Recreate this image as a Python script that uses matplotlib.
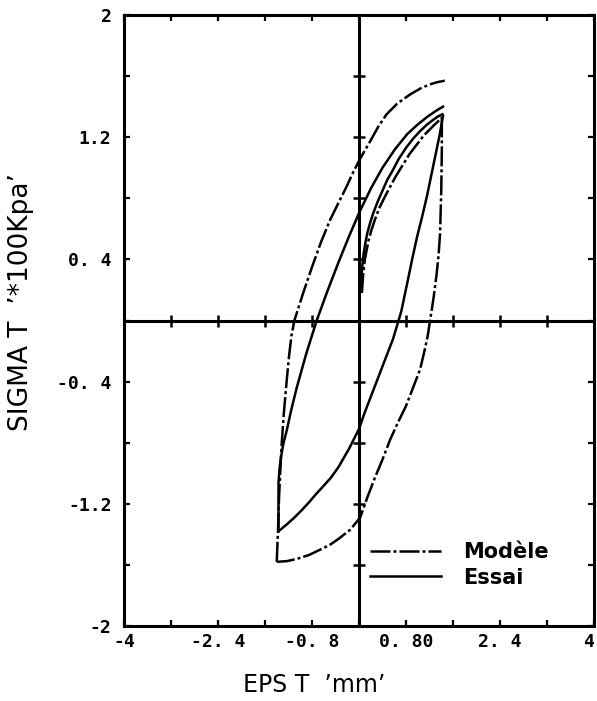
import matplotlib
matplotlib.use("Agg")
import matplotlib.pyplot as plt

# ---- Modèle (dash-dot) ----
mod_load_x = [0.05, 0.06, 0.07, 0.085, 0.10, 0.13, 0.16, 0.21, 0.27, 0.35, 0.44, 0.53,
              0.62, 0.74, 0.86, 0.98, 1.10, 1.19, 1.28, 1.35, 1.41]
mod_load_y = [0.18, 0.24, 0.30, 0.35, 0.40, 0.46, 0.52, 0.59, 0.66, 0.74, 0.81, 0.875,
              0.94, 1.015, 1.09, 1.15, 1.21, 1.245, 1.28, 1.305, 1.33]

mod_unload_x = [1.41, 1.41, 1.41, 1.405, 1.40, 1.39, 1.38, 1.355, 1.32, 1.27, 1.21, 1.17,
                1.12, 1.04, 0.92, 0.80, 0.66, 0.53, 0.40, 0.27, 0.14, 0.02, -0.15,
                -0.35, -0.50, -0.66, -0.85, -1.05, -1.22, -1.40]
mod_unload_y = [1.33, 1.22, 1.12, 0.98, 0.85, 0.71, 0.57, 0.43, 0.30, 0.15, 0.00, -0.10,
                -0.19, -0.32, -0.44, -0.56, -0.67, -0.78, -0.91, -1.03, -1.16, -1.29, -1.37,
                -1.43, -1.47, -1.50, -1.535, -1.56, -1.575, -1.58]

mod_reload_x = [-1.40, -1.39, -1.38, -1.37, -1.36, -1.34, -1.32, -1.28, -1.23, -1.19, -1.15,
                -1.10, -0.95, -0.80, -0.65, -0.49, -0.35, -0.22, -0.10, 0.02, 0.20, 0.33,
                0.47, 0.65, 0.87, 1.05, 1.20, 1.33, 1.46]
mod_reload_y = [-1.58, -1.48, -1.39, -1.27, -1.15, -0.99, -0.83, -0.61, -0.39, -0.23, -0.10,
                0.00, 0.18, 0.35, 0.51, 0.66, 0.77, 0.87, 0.97, 1.06, 1.18, 1.27,
                1.35, 1.42, 1.48, 1.52, 1.545, 1.56, 1.57]

# ---- Essai (solid) ----
ess_load_x = [0.03, 0.04, 0.05, 0.065, 0.08, 0.11, 0.14, 0.19, 0.24, 0.32, 0.40, 0.48,
              0.57, 0.68, 0.80, 0.92, 1.04, 1.15, 1.25, 1.34, 1.42]
ess_load_y = [0.22, 0.28, 0.33, 0.39, 0.44, 0.51, 0.57, 0.64, 0.70, 0.78, 0.85, 0.92,
              0.98, 1.06, 1.13, 1.19, 1.24, 1.28, 1.31, 1.335, 1.35]

ess_unload_x = [1.43, 1.37, 1.30, 1.23, 1.16, 1.075, 0.99, 0.91, 0.84, 0.78, 0.72, 0.65,
                0.58, 0.49, 0.40, 0.30, 0.20, 0.10, 0.00, -0.17, -0.35, -0.48, -0.62,
                -0.74, -0.85, -0.97, -1.10, -1.23, -1.37]
ess_unload_y = [1.34, 1.21, 1.08, 0.95, 0.82, 0.68, 0.55, 0.41, 0.28, 0.17, 0.06, -0.03,
                -0.12, -0.21, -0.30, -0.40, -0.50, -0.60, -0.71, -0.84, -0.96, -1.03, -1.09,
                -1.14, -1.19, -1.24, -1.29, -1.335, -1.38]

ess_reload_x = [-1.37, -1.37, -1.37, -1.355, -1.33, -1.29, -1.23, -1.15, -1.06, -0.98,
                -0.90, -0.81, -0.72, -0.54, -0.35, -0.16, 0.02, 0.21, 0.40, 0.61, 0.82,
                0.99, 1.15, 1.30, 1.43]
ess_reload_y = [-1.38, -1.22, -1.06, -0.98, -0.90, -0.81, -0.72, -0.58, -0.44, -0.33,
                -0.22, -0.11, 0.00, 0.19, 0.38, 0.56, 0.72, 0.87, 1.00, 1.12, 1.22,
                1.28, 1.33, 1.37, 1.40]

# ---- axes ----
x_major = [-4, -2.4, -0.8, 0.8, 2.4, 4]
x_major_labels = ["-4", "-2. 4", "-0. 8", "0. 80", "2. 4", "4"]
x_minor = [-3.2, -1.6, 0.0, 1.6, 3.2]
y_major = [2, 1.2, 0.4, -0.4, -1.2, -2]
y_major_labels = ["2", "1.2", "0. 4", "-0. 4", "-1.2", "-2"]
y_minor = [1.6, 0.8, 0.0, -0.8, -1.6]

legend_labels = ["Modèle", "Essai"]

fig = plt.figure(figsize=(5.97, 7.01), dpi=100)
ax = fig.add_axes([124 / 597, 1 - 626 / 701, 470 / 597, 611 / 701])

lw = 1.8
dash = [8, 1.2, 1.2, 1.2]

ax.plot(mod_load_x, mod_load_y, color="black", lw=lw, dashes=dash)
ax.plot(mod_unload_x, mod_unload_y, color="black", lw=lw, dashes=dash)
h_mod, = ax.plot(mod_reload_x, mod_reload_y, color="black", lw=lw, dashes=dash)

ax.plot(ess_load_x, ess_load_y, color="black", lw=lw)
ax.plot(ess_unload_x, ess_unload_y, color="black", lw=lw)
h_ess, = ax.plot(ess_reload_x, ess_reload_y, color="black", lw=lw)

# zero lines with their own tick marks
ax.axhline(0, color="black", lw=2.2, zorder=3)
ax.axvline(0, color="black", lw=2.2, zorder=3)
all_x = sorted(x_major + x_minor)
all_y = sorted(y_major + y_minor)
ax.plot(all_x, [0] * len(all_x), ls="none", marker="|", ms=8, mew=1.8,
        color="black", zorder=3)
ax.plot([0] * len(all_y), all_y, ls="none", marker="_", ms=8, mew=1.8,
        color="black", zorder=3)

ax.set_xlim(-4, 4)
ax.set_ylim(-2, 2)
ax.set_xticks(x_major)
ax.set_xticklabels(x_major_labels)
ax.set_xticks(x_minor, minor=True)
ax.set_yticks(y_major)
ax.set_yticklabels(y_major_labels)
ax.set_yticks(y_minor, minor=True)

for which in ("major", "minor"):
    ax.tick_params(axis="both", which=which, direction="in", length=4.5,
                   width=1.6, top=True, right=True, color="black")
ax.tick_params(axis="x", which="major", pad=5)
ax.tick_params(axis="y", which="major", pad=9)
for lab in ax.get_xticklabels() + ax.get_yticklabels():
    lab.set_fontfamily("DejaVu Sans Mono")
    lab.set_fontweight("bold")
    lab.set_fontsize(13)
ax.get_xticklabels()[-1].set_horizontalalignment("right")

for sp in ax.spines.values():
    sp.set_linewidth(2.2)

ax.set_xlabel("EPS T  \u2019mm\u2019", fontsize=17)
ax.xaxis.set_label_coords(0.404, -0.097)
ax.xaxis.label.set_va("center")
ax.set_ylabel("SIGMA T  \u2019*100Kpa\u2019", fontsize=19)
ax.yaxis.set_label_coords(-0.219, 0.53)
ax.yaxis.label.set_va("center")

leg = ax.legend([h_mod, h_ess], legend_labels, loc="center left",
                bbox_to_anchor=(0.523, 0.10), frameon=False, borderaxespad=0,
                borderpad=0, handlelength=3.4, handletextpad=1.1,
                labelspacing=0.25, prop={"weight": "bold", "size": 15})

fig.savefig("out.png", dpi=100, facecolor="white")
